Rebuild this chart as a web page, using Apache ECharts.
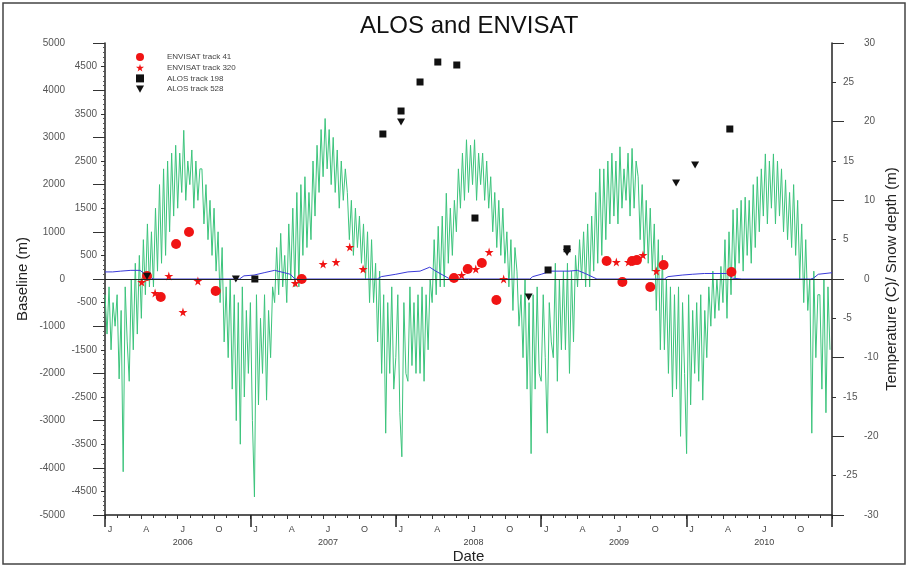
<!DOCTYPE html>
<html>
<head>
<meta charset="utf-8">
<script src="https://cdn.jsdelivr.net/npm/echarts@6/dist/echarts.min.js"></script>
<style>
  html, body { margin: 0; padding: 0; background: #fff; }
  #chart { width: 908px; height: 566px; }
</style>
</head>
<body>
<div id="chart"></div>
<script>
// x axis is counted in months from 2006-01-01
const quarterLetters = ['J', 'A', 'J', 'O']
const yearLabels = ['2006', '2007', '2008', '2009', '2010']

// baseline (m) of each acquisition
const envisat41 = [
  ['2006-04-15', 64], ['2006-05-19', -381], ['2006-06-27', 741], ['2006-07-29', 996],
  ['2006-10-05', -254], ['2007-05-08', 0], ['2008-05-25', 21], ['2008-06-29', 212],
  ['2008-08-04', 339], ['2008-09-10', -445], ['2009-06-13', 381], ['2009-07-22', -64],
  ['2009-08-16', 381], ['2009-08-28', 400], ['2009-10-01', -170], ['2009-11-04', 297],
  ['2010-04-22', 148]
]
const envisat320 = [
  ['2006-04-02', -64], ['2006-05-05', -297], ['2006-06-09', 64], ['2006-07-14', -699],
  ['2006-08-21', -42], ['2007-04-22', -85], ['2007-07-01', 318], ['2007-08-03', 360],
  ['2007-09-07', 678], ['2007-10-10', 212], ['2008-06-14', 85], ['2008-07-19', 212],
  ['2008-08-22', 572], ['2008-09-28', 0], ['2009-07-07', 360], ['2009-08-07', 360],
  ['2009-09-13', 508], ['2009-10-16', 170]
]
const alos198 = [
  ['2007-01-12', 0], ['2007-11-29', 3072], ['2008-01-14', 3559], ['2008-03-01', 4174],
  ['2008-04-15', 4597], ['2008-06-02', 4534], ['2008-07-17', 1292], ['2009-01-18', 191],
  ['2009-03-05', 640], ['2010-04-18', 3178]
]
const alos528 = [
  ['2006-04-15', 60], ['2006-11-25', 0], ['2008-01-14', 3326], ['2008-11-30', -381],
  ['2009-03-05', 560], ['2009-12-05', 2034], ['2010-01-22', 2415]
]

// air temperature (C), six samples per month from 2006-01-01 (one row = one month)
const tempStep = 1 / 6
const temperature = [
  -2, -7, -1, -9, -3, -6,
  -2, -12.7, -4, -24.5, -1, -8,
  -13, 0, -9, 2, -7, 3,
  -5, 5, -2, 7, -1, 6,
  -1, 9, 1, 12, 2, 14,
  3, 15, 6, 16, 8, 17,
  9, 16, 11, 18.9, 10, 15,
  12, 16.4, 9, 15, 10, 14,
  14, 7, 12, 5, 10, 3,
  9, 1, 6, -3, 4, -8,
  -1, -10, 0, -14, -2, -18,
  -3, -21, -1, -15, -4, -12,
  -3, -18, -27.7, -2, -16, -5,
  -12, -2, -15.4, -4, -10, -1,
  -3, 4, -2, 5.8, -1, 3,
  -3, 7, 0, 9, -1, 11,
  -1, 12, 3, 13, 4, 11,
  5, 15, 8, 17, 11, 19,
  13, 20.4, 14, 19, 12, 18,
  11, 16.4, 9, 15, 10, 14,
  11, 5, 10, 3, 9, 4,
  8, 2, 7, 0, 6, -3,
  5, -3, 2, -8, 1, -12,
  -2, -19.6, -3, -12, -1, -14,
  -10, -2, -17, -22.6, -3, -12,
  -13, -1, -11, -3, -12, -2,
  -12, -1, -13, -2, -9, 0,
  -3, 5, -2, 6.7, -1, 8,
  -1, 10.9, 2, 9, 3, 10,
  6, 14, 9, 16, 10, 17.7,
  11, 17, 12, 17.7, 10, 16,
  12, 16, 10, 15, 9, 13,
  6, 11, 4, 10, 3, 9,
  2, 6, -1, 5, -4, 4,
  1, -6, -2, -10, 0, -14,
  -3, -22.2, -2, -14, -1, -12,
  -13, -2, -10, -19.6, -3, -8,
  -10, 2, -13, 0, -9, 1,
  -9, 2, -12, 1, -8, 3,
  -1, 5, 0, 6, -1, 7,
  -1, 8, 1, 11, 2, 14,
  3, 14, 5, 15, 7, 16,
  8, 15, 7, 16.8, 9, 14,
  10, 16, 8, 16.6, 9, 15,
  13, 5, 12, 3, 10, 2,
  9, 1, 7, -4, 5, -9,
  3, -9, 0, -12, -1, -15,
  -2, -14, -1, -20, -3, -12,
  -22.2, -2, -16, -4, -12, -3,
  -13, -2, -15.4, -4, -10, -1,
  -6, 1, -5, 0, -4, 1.6,
  -3, 5, -5, 6, -2, 8.8,
  0, 9, 2, 10, 1, 10.4,
  3, 10, 2, 12, 4, 13,
  6, 14, 8, 15.9, 7, 15,
  9, 15.9, 7, 15, 8, 14,
  6, 12.6, 5, 11, 4, 12,
  3, 10, 0, 7, -3, 5,
  -4, 0, -19.6, 1, -10, -2,
  -2, -14, 0, -17, -1, -9
]

// snow depth (m)
const snowDates = [
  '2006-01-01', '2006-01-20', '2006-02-10', '2006-03-05', '2006-03-28', '2006-04-10', '2006-05-01',
  '2006-12-04', '2006-12-15', '2007-01-10', '2007-02-05', '2007-03-01', '2007-03-25', '2007-04-10', '2007-04-21',
  '2007-11-15', '2007-11-25', '2008-01-01', '2008-02-01', '2008-03-01', '2008-03-25', '2008-04-10', '2008-05-15',
  '2008-12-03', '2008-12-10', '2009-01-01', '2009-01-25', '2009-03-10', '2009-04-01', '2009-04-20', '2009-05-19',
  '2009-11-06', '2009-11-15', '2009-12-20', '2010-01-15', '2010-02-15', '2010-04-10', '2010-04-25', '2010-05-18',
  '2010-11-08', '2010-11-15', '2010-11-27', '2010-12-31'
]
const snowDepth = [
  0.9, 0.9, 1.0, 1.1, 1.1, 0.6, 0,
  0, 0.4, 0.5, 0.8, 1.1, 0.8, 0.6, 0,
  0, 0.3, 0.6, 0.9, 1.0, 1.5, 1.0, 0,
  0, 0.3, 0.6, 1.0, 1.0, 1.1, 0.7, 0,
  0, 0.3, 0.5, 0.6, 0.7, 0.7, 0.1, 0,
  0, 0.1, 0.6, 0.8
]

function monthIndex(d) {
  const [y, m, day] = d.split('-').map(Number)
  return (y - 2006) * 12 + (m - 1) + (day - 1) / 30
}
const toPoints = list => list.map(([d, v]) => [monthIndex(d), v])

const starPath = 'path://M50,0L61,35L98,35L68,57L79,91L50,70L21,91L32,57L2,35L39,35Z'
const downTriangle = 'path://M0,0L10,0L5,9Z'
const labelFont = 'Liberation Sans'

const chart = echarts.init(document.getElementById('chart'))
chart.setOption({
  animation: false,
  backgroundColor: '#fff',
  textStyle: { fontFamily: labelFont },
  title: {
    text: 'ALOS and ENVISAT',
    left: 355,
    top: 9,
    textStyle: { fontSize: 24, fontWeight: 'normal', color: '#111', fontFamily: labelFont }
  },
  graphic: [{
    type: 'rect',
    shape: { x: 3, y: 3, width: 902, height: 561 },
    style: { fill: 'none', stroke: '#444', lineWidth: 1.5 },
    silent: true
  }],
  legend: {
    orient: 'vertical',
    left: 131,
    top: 48,
    itemWidth: 8,
    itemHeight: 8,
    itemGap: 2.7,
    data: ['ENVISAT track 41', 'ENVISAT track 320', 'ALOS track 198', 'ALOS track 528'],
    textStyle: { fontSize: 8, color: '#444', lineHeight: 8, padding: [0, 0, 0, 18] }
  },
  grid: { left: 105, right: 76, top: 43, bottom: 51, outerBoundsMode: 'none' },
  xAxis: [{
    type: 'value',
    min: 0,
    max: 60,
    interval: 3,
    position: 'bottom',
    name: 'Date',
    nameLocation: 'middle',
    nameGap: 34,
    nameMoveOverlap: false,
    nameTextStyle: { fontSize: 15, color: '#222' },
    axisLine: { onZero: false, lineStyle: { color: '#222', width: 1.5 } },
    axisTick: { length: 4, lineStyle: { color: '#333' } },
    minorTick: { show: true, splitNumber: 3, length: 3, lineStyle: { color: '#333' } },
    splitLine: { show: false },
    axisLabel: {
      fontSize: 9,
      color: '#444',
      margin: 8,
      lineHeight: 13,
      padding: [0, 0, 0, 10],
      formatter: v => {
        if (v >= 60) return ''
        const q = Math.round(v / 3) % 4
        return q === 2 ? quarterLetters[q] + '\n' + yearLabels[Math.floor(v / 12)] : quarterLetters[q]
      }
    }
  }, {
    // long ticks at every new year
    type: 'value',
    min: 0,
    max: 60,
    interval: 12,
    position: 'bottom',
    axisLine: { show: false, onZero: false },
    axisTick: { length: 12, lineStyle: { color: '#222', width: 1.5 } },
    axisLabel: { show: false },
    splitLine: { show: false }
  }],
  yAxis: [{
    type: 'value',
    min: -5000,
    max: 5000,
    interval: 1000,
    position: 'left',
    name: 'Baseline (m)',
    nameLocation: 'middle',
    nameGap: 75,
    nameMoveOverlap: false,
    nameTextStyle: { fontSize: 15, color: '#222' },
    axisLine: { show: true, onZero: false, lineStyle: { color: '#222', width: 1.5 } },
    axisTick: { length: 12, lineStyle: { color: '#333' } },
    minorTick: { show: true, splitNumber: 10, length: 2, lineStyle: { color: '#555' } },
    splitLine: { show: false },
    axisLabel: { fontSize: 10, color: '#555', margin: 40, formatter: v => String(v) }
  }, {
    type: 'value',
    min: -5000,
    max: 5000,
    interval: 500,
    position: 'left',
    axisLine: { show: false, onZero: false },
    axisTick: { length: 4, lineStyle: { color: '#333' } },
    splitLine: { show: false },
    axisLabel: { fontSize: 10, color: '#555', margin: 8, formatter: v => (v % 1000 === 0 ? '' : String(v)) }
  }, {
    type: 'value',
    min: -30,
    max: 30,
    interval: 10,
    position: 'right',
    name: 'Temperature (C)/ Snow depth (m)',
    nameLocation: 'middle',
    nameGap: 52,
    nameMoveOverlap: false,
    nameTextStyle: { fontSize: 15, color: '#222' },
    axisLine: { show: true, onZero: false, lineStyle: { color: '#222', width: 1.5 } },
    axisTick: { length: 12, lineStyle: { color: '#333' } },
    splitLine: { show: false },
    axisLabel: { fontSize: 10, color: '#555', margin: 32 }
  }, {
    type: 'value',
    min: -30,
    max: 30,
    interval: 5,
    position: 'right',
    axisLine: { show: false, onZero: false },
    axisTick: { length: 4, lineStyle: { color: '#333' } },
    splitLine: { show: false },
    axisLabel: { fontSize: 10, color: '#555', margin: 11, formatter: v => (v % 10 === 0 ? '' : String(v)) }
  }],
  series: [{
    name: 'Temperature',
    type: 'line',
    yAxisIndex: 2,
    data: temperature.map((t, i) => [i * tempStep, t]),
    showSymbol: false,
    lineStyle: { color: '#3cc47c', width: 1 },
    z: 1
  }, {
    name: 'Snow depth',
    type: 'line',
    yAxisIndex: 2,
    data: snowDates.map((d, i) => [monthIndex(d), snowDepth[i]]),
    showSymbol: false,
    lineStyle: { color: '#3a3ad8', width: 1 },
    z: 2,
    markLine: {
      silent: true,
      symbol: 'none',
      label: { show: false },
      lineStyle: { color: '#222', width: 1, type: 'solid' },
      data: [{ yAxis: 0 }]
    }
  }, {
    name: 'ENVISAT track 41',
    type: 'scatter',
    yAxisIndex: 0,
    data: toPoints(envisat41),
    symbol: 'circle',
    symbolSize: 10,
    itemStyle: { color: '#f01414', opacity: 1 },
    z: 3
  }, {
    name: 'ENVISAT track 320',
    type: 'scatter',
    yAxisIndex: 0,
    data: toPoints(envisat320),
    symbol: starPath,
    symbolSize: 9,
    itemStyle: { color: '#f01414', opacity: 1 },
    z: 3
  }, {
    name: 'ALOS track 198',
    type: 'scatter',
    yAxisIndex: 0,
    data: toPoints(alos198),
    symbol: 'rect',
    symbolSize: 7,
    itemStyle: { color: '#111', opacity: 1 },
    z: 4
  }, {
    name: 'ALOS track 528',
    type: 'scatter',
    yAxisIndex: 0,
    data: toPoints(alos528),
    symbol: downTriangle,
    symbolSize: [8, 7],
    itemStyle: { color: '#111', opacity: 1 },
    z: 4
  }]
})
</script>
</body>
</html>
